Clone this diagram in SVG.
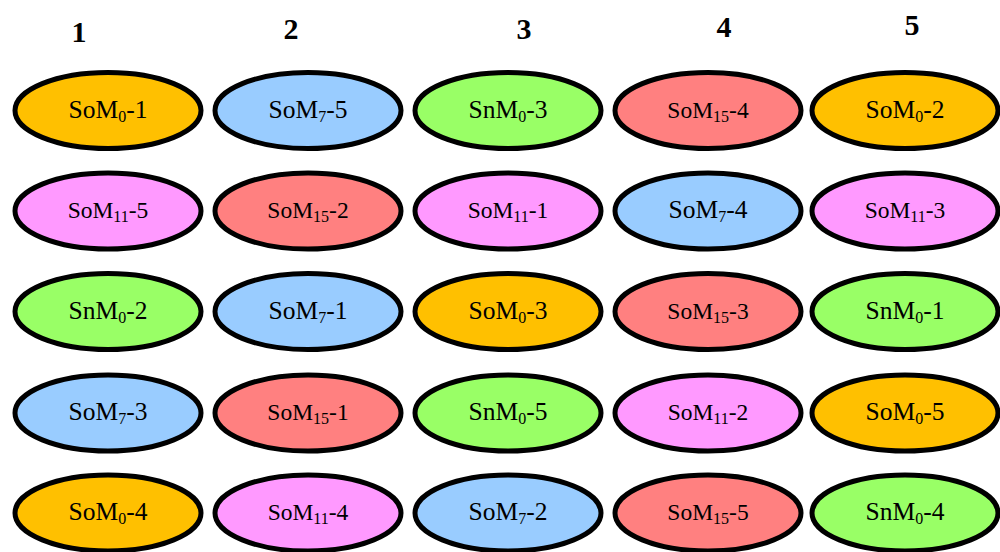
<svg xmlns="http://www.w3.org/2000/svg" width="1000" height="552" viewBox="0 0 1000 552">
<style>
.n{stroke:#000;stroke-width:5}
.o{fill:#FFC000}.b{fill:#99CCFF}.g{fill:#99FF66}.r{fill:#FF8080}.m{fill:#FF99FF}
.t{font-family:"Liberation Serif","Times New Roman",serif;text-anchor:middle;fill:#000}
.a{font-size:25.5px}.c{font-size:23.5px}
.s{font-size:16px}
.h{font-family:"Liberation Serif","Times New Roman",serif;font-weight:bold;font-size:30px;text-anchor:middle;fill:#000}
</style>
<rect width="1000" height="552" fill="#fff"/>
<g id="headers">
<text class="h" x="79" y="42">1</text>
<text class="h" x="291" y="39">2</text>
<text class="h" x="524" y="39">3</text>
<text class="h" x="724" y="37">4</text>
<text class="h" x="912" y="35">5</text>
</g>
<g id="connectors"/>
<!-- Row 1 -->
<g id="r1c1"><ellipse class="n o" cx="108" cy="110.5" rx="93" ry="38"/><text class="t a" x="108" y="117.5">SoM<tspan class="s" dy="4">0</tspan><tspan dy="-4">-1</tspan></text></g>
<g id="r1c2"><ellipse class="n b" cx="308" cy="110.5" rx="93" ry="38"/><text class="t a" x="308" y="117.5">SoM<tspan class="s" dy="4">7</tspan><tspan dy="-4">-5</tspan></text></g>
<g id="r1c3"><ellipse class="n g" cx="508" cy="110.5" rx="93" ry="38"/><text class="t a" x="508" y="117.5">SnM<tspan class="s" dy="4">0</tspan><tspan dy="-4">-3</tspan></text></g>
<g id="r1c4"><ellipse class="n r" cx="708" cy="110.5" rx="93" ry="38"/><text class="t c" x="708" y="117.5">SoM<tspan class="s" dy="4">15</tspan><tspan dy="-4">-4</tspan></text></g>
<g id="r1c5"><ellipse class="n o" cx="905" cy="110.5" rx="93" ry="38"/><text class="t a" x="905" y="117.5">SoM<tspan class="s" dy="4">0</tspan><tspan dy="-4">-2</tspan></text></g>
<!-- Row 2 -->
<g id="r2c1"><ellipse class="n m" cx="108" cy="211" rx="93" ry="38"/><text class="t c" x="108" y="218">SoM<tspan class="s" dy="4">11</tspan><tspan dy="-4">-5</tspan></text></g>
<g id="r2c2"><ellipse class="n r" cx="308" cy="211" rx="93" ry="38"/><text class="t c" x="308" y="218">SoM<tspan class="s" dy="4">15</tspan><tspan dy="-4">-2</tspan></text></g>
<g id="r2c3"><ellipse class="n m" cx="508" cy="211" rx="93" ry="38"/><text class="t c" x="508" y="218">SoM<tspan class="s" dy="4">11</tspan><tspan dy="-4">-1</tspan></text></g>
<g id="r2c4"><ellipse class="n b" cx="708" cy="211" rx="93" ry="38"/><text class="t a" x="708" y="218">SoM<tspan class="s" dy="4">7</tspan><tspan dy="-4">-4</tspan></text></g>
<g id="r2c5"><ellipse class="n m" cx="905" cy="211" rx="93" ry="38"/><text class="t c" x="905" y="218">SoM<tspan class="s" dy="4">11</tspan><tspan dy="-4">-3</tspan></text></g>
<!-- Row 3 -->
<g id="r3c1"><ellipse class="n g" cx="108" cy="311.5" rx="93" ry="38"/><text class="t a" x="108" y="318.5">SnM<tspan class="s" dy="4">0</tspan><tspan dy="-4">-2</tspan></text></g>
<g id="r3c2"><ellipse class="n b" cx="308" cy="311.5" rx="93" ry="38"/><text class="t a" x="308" y="318.5">SoM<tspan class="s" dy="4">7</tspan><tspan dy="-4">-1</tspan></text></g>
<g id="r3c3"><ellipse class="n o" cx="508" cy="311.5" rx="93" ry="38"/><text class="t a" x="508" y="318.5">SoM<tspan class="s" dy="4">0</tspan><tspan dy="-4">-3</tspan></text></g>
<g id="r3c4"><ellipse class="n r" cx="708" cy="311.5" rx="93" ry="38"/><text class="t c" x="708" y="318.5">SoM<tspan class="s" dy="4">15</tspan><tspan dy="-4">-3</tspan></text></g>
<g id="r3c5"><ellipse class="n g" cx="905" cy="311.5" rx="93" ry="38"/><text class="t a" x="905" y="318.5">SnM<tspan class="s" dy="4">0</tspan><tspan dy="-4">-1</tspan></text></g>
<!-- Row 4 -->
<g id="r4c1"><ellipse class="n b" cx="108" cy="413" rx="93" ry="38"/><text class="t a" x="108" y="420">SoM<tspan class="s" dy="4">7</tspan><tspan dy="-4">-3</tspan></text></g>
<g id="r4c2"><ellipse class="n r" cx="308" cy="413" rx="93" ry="38"/><text class="t c" x="308" y="420">SoM<tspan class="s" dy="4">15</tspan><tspan dy="-4">-1</tspan></text></g>
<g id="r4c3"><ellipse class="n g" cx="508" cy="413" rx="93" ry="38"/><text class="t a" x="508" y="420">SnM<tspan class="s" dy="4">0</tspan><tspan dy="-4">-5</tspan></text></g>
<g id="r4c4"><ellipse class="n m" cx="708" cy="413" rx="93" ry="38"/><text class="t c" x="708" y="420">SoM<tspan class="s" dy="4">11</tspan><tspan dy="-4">-2</tspan></text></g>
<g id="r4c5"><ellipse class="n o" cx="905" cy="413" rx="93" ry="38"/><text class="t a" x="905" y="420">SoM<tspan class="s" dy="4">0</tspan><tspan dy="-4">-5</tspan></text></g>
<!-- Row 5 -->
<g id="r5c1"><ellipse class="n o" cx="108" cy="513" rx="93" ry="38"/><text class="t a" x="108" y="520">SoM<tspan class="s" dy="4">0</tspan><tspan dy="-4">-4</tspan></text></g>
<g id="r5c2"><ellipse class="n m" cx="308" cy="513" rx="93" ry="38"/><text class="t c" x="308" y="520">SoM<tspan class="s" dy="4">11</tspan><tspan dy="-4">-4</tspan></text></g>
<g id="r5c3"><ellipse class="n b" cx="508" cy="513" rx="93" ry="38"/><text class="t a" x="508" y="520">SoM<tspan class="s" dy="4">7</tspan><tspan dy="-4">-2</tspan></text></g>
<g id="r5c4"><ellipse class="n r" cx="708" cy="513" rx="93" ry="38"/><text class="t c" x="708" y="520">SoM<tspan class="s" dy="4">15</tspan><tspan dy="-4">-5</tspan></text></g>
<g id="r5c5"><ellipse class="n g" cx="905" cy="513" rx="93" ry="38"/><text class="t a" x="905" y="520">SnM<tspan class="s" dy="4">0</tspan><tspan dy="-4">-4</tspan></text></g>
</svg>
